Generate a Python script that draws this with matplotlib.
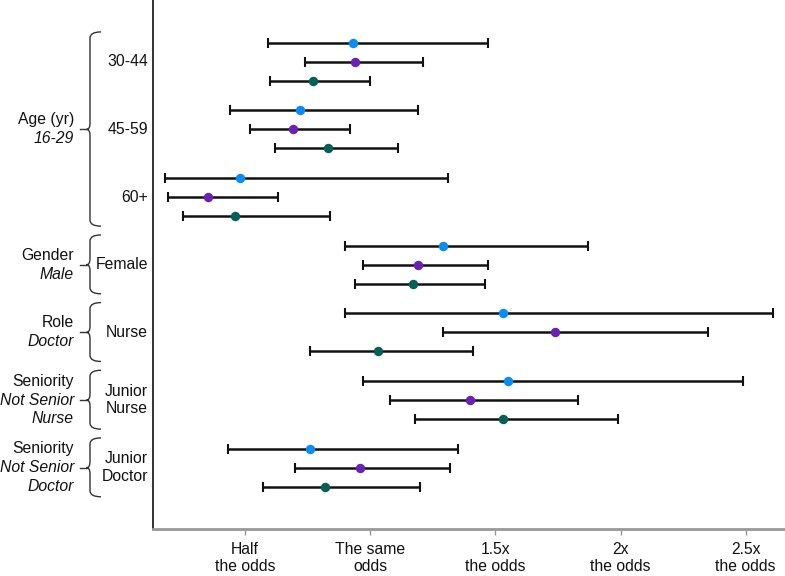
import matplotlib
matplotlib.use("Agg")
import matplotlib.pyplot as plt
import matplotlib.transforms as mtransforms
from matplotlib.path import Path
from matplotlib.patches import PathPatch
import numpy as np

plt.rcParams['font.family'] = ['Liberation Sans', 'DejaVu Sans']

# ---- data ----
categories = ["30-44", "45-59", "60+", "Female", "Nurse", "Junior\nNurse", "Junior\nDoctor"]
group_names = ["Age (yr)", "Gender", "Role", "Seniority", "Seniority"]
group_refs = ["16-29", "Male", "Doctor", "Not Senior\nNurse", "Not Senior\nDoctor"]
group_members = [[0, 1, 2], [3], [4], [5], [6]]

blue_est = [0.93, 0.72, 0.48, 1.29, 1.53, 1.55, 0.76]
blue_lo = [0.59, 0.44, 0.18, 0.90, 0.90, 0.97, 0.43]
blue_hi = [1.47, 1.19, 1.31, 1.87, 2.61, 2.49, 1.35]

purple_est = [0.94, 0.69, 0.35, 1.19, 1.74, 1.40, 0.96]
purple_lo = [0.74, 0.52, 0.19, 0.97, 1.29, 1.08, 0.70]
purple_hi = [1.21, 0.92, 0.63, 1.47, 2.35, 1.83, 1.32]

green_est = [0.77, 0.83, 0.46, 1.17, 1.03, 1.53, 0.82]
green_lo = [0.60, 0.62, 0.25, 0.94, 0.76, 1.18, 0.57]
green_hi = [1.00, 1.11, 0.84, 1.46, 1.41, 1.99, 1.20]

tick_values = [0.5, 1.0, 1.5, 2.0, 2.5]
tick_labels = ["Half\nthe odds", "The same\nodds", "1.5x\nthe odds", "2x\nthe odds", "2.5x\nthe odds"]

series = [
    (blue_est, blue_lo, blue_hi, "#0A8CF0", -0.279),
    (purple_est, purple_lo, purple_hi, "#6A22B0", 0.0),
    (green_est, green_lo, green_hi, "#0A5E58", 0.279),
]

# ---- figure ----
W, H = 785, 576
fig = plt.figure(figsize=(W / 100, H / 100), dpi=100)
ax = fig.add_axes([153 / W, 47 / H, (W - 153) / W, 529 / H])

pos = np.arange(len(categories))
for est, lo, hi, col, off in series:
    est = np.array(est); lo = np.array(lo); hi = np.array(hi)
    y = pos + off
    ax.errorbar(est, y, xerr=[est - lo, hi - est], fmt='none', ecolor='#111111',
                elinewidth=1.8, capsize=3.4, capthick=1.5, zorder=2)
    ax.plot(est, y, 'o', color=col, markersize=6.8, markeredgewidth=0, zorder=3)

ax.set_xlim(0.132, 2.657)
ax.set_ylim(6.906, -0.912)
ax.set_xticks(tick_values)
ax.set_xticklabels(tick_labels, fontsize=11.3, color='#111111')
ax.set_yticks([])
ax.tick_params(axis='x', length=4, width=1, color='#999999', pad=5)
for s in ['top', 'right']:
    ax.spines[s].set_visible(False)
ax.spines['left'].set_color('#333333')
ax.spines['left'].set_linewidth(1.4)
ax.spines['bottom'].set_color('#999999')
ax.spines['bottom'].set_linewidth(2.0)

trans = mtransforms.blended_transform_factory(fig.transFigure, ax.transData)

def fx(px):
    return px / W

# category labels
for i, lab in enumerate(categories):
    ax.text(fx(148), i, lab, transform=trans, ha='right', va='center',
            multialignment='right', fontsize=11.3, color='#111111')

# group labels and braces
LS = 0.279
for name, ref, members in zip(group_names, group_refs, group_members):
    yt = members[0] - 0.44
    yb = members[-1] + 0.43
    ym = (members[0] + members[-1]) / 2.0
    lines = [(name, 'normal')] + [(r, 'italic') for r in ref.split("\n")]
    n = len(lines)
    for k, (txt, style) in enumerate(lines):
        yy = ym + (k - (n - 1) / 2.0) * LS
        ax.text(fx(74), yy, txt, transform=trans, ha='right', va='center',
                fontsize=11.3, fontstyle=style, color='#111111')
    h = 0.09
    xv, xh, xt, xd = fx(90), fx(101), fx(86.5), fx(80)
    verts = [(xh, yt), (xv, yt), (xv, yt + h),
             (xv, ym - h),
             (xv, ym), (xt, ym),
             (xv, ym), (xv, ym + h),
             (xv, yb - h),
             (xv, yb), (xh, yb)]
    codes = [Path.MOVETO, Path.CURVE3, Path.CURVE3,
             Path.LINETO,
             Path.CURVE3, Path.CURVE3,
             Path.CURVE3, Path.CURVE3,
             Path.LINETO,
             Path.CURVE3, Path.CURVE3]
    patch = PathPatch(Path(verts, codes), transform=trans, fill=False,
                      edgecolor='#333333', linewidth=1.0, clip_on=False)
    ax.add_patch(patch)
    ax.plot([xd, xt], [ym, ym], transform=trans, color='#333333',
            linewidth=1.0, clip_on=False)

fig.savefig("out.png", dpi=100)
